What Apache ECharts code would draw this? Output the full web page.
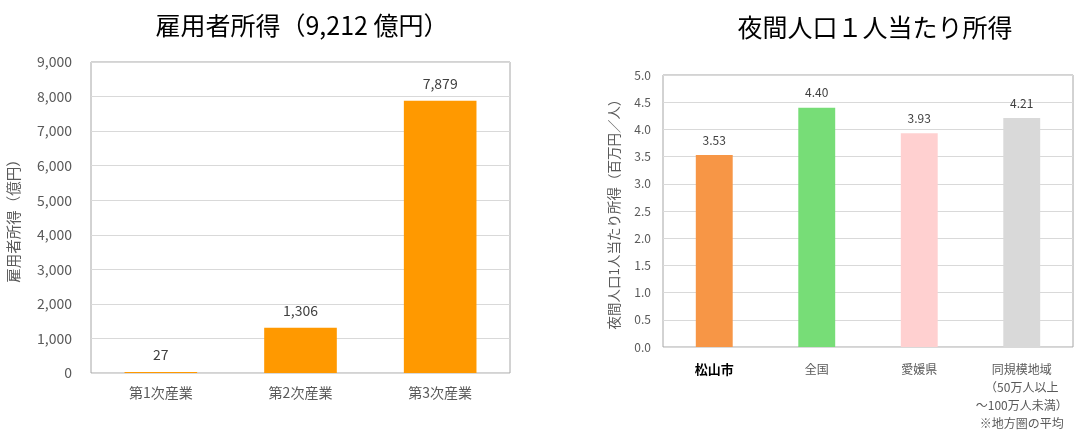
<!DOCTYPE html>
<html><head><meta charset="utf-8">
<script src="https://cdn.jsdelivr.net/npm/echarts@6/dist/echarts.min.js"></script>
<style>html,body{margin:0;padding:0;background:#fff}#c{width:1075px;height:432px}</style>
</head><body><div id="c"></div>
<script>
const leftTitle = '雇用者所得（9,212 億円）';
const leftCategories = ['第1次産業', '第2次産業', '第3次産業'];
const leftValues = [27, 1306, 7879];
const leftAxisName = '雇用者所得（億円）';

const rightTitle = '夜間人口１人当たり所得';
const rightCategories = ['松山市', '全国', '愛媛県', '同規模地域\n（50万人以上\n～100万人未満）\n※地方圏の平均'];
const rightValues = [3.53, 4.40, 3.93, 4.21];
const rightColors = ['#F79646', '#77DD77', '#FFD0D0', '#D9D9D9'];
const rightAxisName = '夜間人口1人当たり所得（百万円／人）';

const FONT = '"Noto Sans CJK JP", "Noto Sans", sans-serif';
const chart = echarts.init(document.getElementById('c'), null, {renderer: 'canvas'});
chart.setOption({
  animation: false,
  textStyle: {fontFamily: FONT},
  title: [
    {text: leftTitle, left: 297, top: 8, textAlign: 'center',
     textStyle: {fontSize: 25, fontWeight: 'normal', color: '#000', fontFamily: FONT}},
    {text: rightTitle, left: 870, top: 10, textAlign: 'center',
     textStyle: {fontSize: 25, fontWeight: 'normal', color: '#000', fontFamily: FONT}}
  ],
  grid: [
    {left: 91, top: 62, width: 419, height: 311, containLabel: false, show: true, borderColor: '#A6A6A6', borderWidth: 1},
    {left: 663, top: 75, width: 410, height: 277, containLabel: false, show: true, borderColor: '#A6A6A6', borderWidth: 1}
  ],
  xAxis: [
    {type: 'category', gridIndex: 0, data: leftCategories,
     axisLine: {show: false}, axisTick: {show: false},
     axisLabel: {color: '#595959', fontSize: 14, margin: 13, fontFamily: FONT}},
    {type: 'category', gridIndex: 1, data: rightCategories,
     axisLine: {show: false}, axisTick: {show: false},
     axisLabel: {color: '#595959', fontSize: 12, margin: 13, lineHeight: 18, fontFamily: FONT, interval: 0,
       formatter: function (v) { return v === '松山市' ? '{b|' + v + '}' : v; },
       rich: {b: {fontWeight: 'bold', color: '#000', fontSize: 13, fontFamily: FONT}}}}
  ],
  yAxis: [
    {type: 'value', gridIndex: 0, min: 0, max: 9000, interval: 1000,
     name: leftAxisName, nameLocation: 'middle', nameGap: 70, nameRotate: 90,
     nameTextStyle: {color: '#595959', fontSize: 14.5, fontFamily: FONT},
     axisLine: {show: false}, axisTick: {show: false},
     axisLabel: {color: '#595959', fontSize: 14, margin: 19, fontFamily: FONT,
       formatter: function (v) { return v.toLocaleString('en-US'); }},
     splitLine: {lineStyle: {color: '#D9D9D9', width: 1}}},
    {type: 'value', gridIndex: 1, min: 0, max: 5, interval: 0.5,
     name: rightAxisName, nameLocation: 'middle', nameGap: 42, nameRotate: 90,
     nameTextStyle: {color: '#595959', fontSize: 13.5, fontFamily: FONT},
     axisLine: {show: false}, axisTick: {show: false},
     axisLabel: {color: '#595959', fontSize: 12, margin: 12, fontFamily: FONT,
       formatter: function (v) { return v.toFixed(1); }},
     splitLine: {lineStyle: {color: '#D9D9D9', width: 1}}}
  ],
  series: [
    {type: 'bar', xAxisIndex: 0, yAxisIndex: 0, data: leftValues, barWidth: '52%',
     itemStyle: {color: '#FF9900'},
     label: {show: true, position: 'top', distance: 10, color: '#404040', fontSize: 14, fontFamily: FONT,
       formatter: function (p) { return p.value.toLocaleString('en-US'); }}},
    {type: 'bar', xAxisIndex: 1, yAxisIndex: 1, barWidth: '36%',
     data: rightValues.map(function (v, i) { return {value: v, itemStyle: {color: rightColors[i]}}; }),
     label: {show: true, position: 'top', distance: 9, color: '#404040', fontSize: 12, fontFamily: FONT,
       formatter: function (p) { return p.value.toFixed(2); }}}
  ]
});
</script></body></html>
